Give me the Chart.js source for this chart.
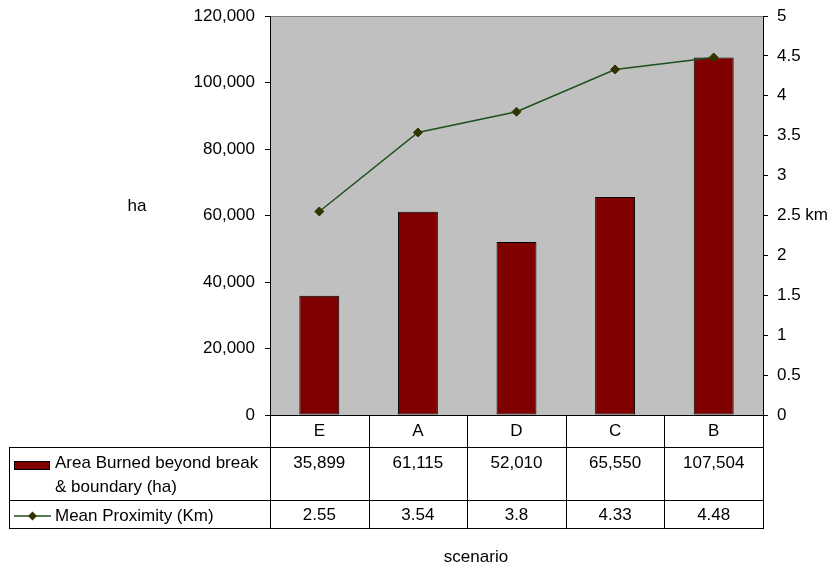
<!DOCTYPE html>
<html>
<head>
<meta charset="utf-8">
<script src="https://cdn.jsdelivr.net/npm/chart.js@4/dist/chart.umd.min.js"></script>
<style>
  html, body { margin: 0; padding: 0; background: #fff; }
  canvas { display: block; }
</style>
</head>
<body>
<canvas id="c" width="830" height="569"></canvas>
<script>
// Scenarios and the two measured series
const categories = ['E', 'A', 'D', 'C', 'B'];
const areaBurned = [35899, 61115, 52010, 65550, 107504];
const meanProximity = [2.55, 3.54, 3.8, 4.33, 4.48];

// Series names as shown in the data table
const areaLabel = ['Area Burned beyond break', '& boundary (ha)'];
const proximityLabel = 'Mean Proximity (Km)';

// Axis ranges and labels
const haAxis = { min: 0, max: 120000, step: 20000 };
const kmAxis = { min: 0, max: 5, step: 0.5 };
const haUnit = 'ha';
const kmUnit = 'km';
const xTitle = 'scenario';

const FONT = 'Liberation Sans, Arial, sans-serif';
const FS = 17;
const BAR_COLOR = '#800000';
const LINE_COLOR = '#1d4f1d';
const MARK_COLOR = '#333300';

const fmt = v => v.toLocaleString('en-US');

// Grey plot background with a grey top edge
const plotBackground = {
  id: 'plotBackground',
  beforeDraw(chart) {
    const { ctx, chartArea: a } = chart;
    ctx.save();
    ctx.fillStyle = '#c0c0c0';
    ctx.fillRect(a.left, a.top, a.right - a.left, a.bottom - a.top);
    ctx.strokeStyle = '#808080';
    ctx.lineWidth = 1;
    ctx.beginPath();
    ctx.moveTo(a.left, Math.round(a.top) + 0.5);
    ctx.lineTo(a.right, Math.round(a.top) + 0.5);
    ctx.stroke();
    ctx.restore();
  }
};

// Data table under the plot, unit labels and axis title
const dataTable = {
  id: 'dataTable',
  afterDraw(chart) {
    const { ctx, chartArea: a } = chart;
    const xs = chart.scales.x;
    const n = categories.length;
    const colW = (a.right - a.left) / n;
    const tableLeft = 9;
    const r0 = a.bottom;        // top of category row
    const r1 = r0 + 32;         // top of area row
    const r2 = r1 + 53;         // top of proximity row
    const r3 = r2 + 28;         // bottom of table
    const p = v => Math.round(v) + 0.5;

    ctx.save();
    ctx.strokeStyle = '#000';
    ctx.lineWidth = 1;
    ctx.beginPath();
    // horizontal rules
    ctx.moveTo(a.left, p(r0)); ctx.lineTo(a.right, p(r0));
    [r1, r2, r3].forEach(y => { ctx.moveTo(tableLeft, p(y)); ctx.lineTo(a.right, p(y)); });
    // column rules
    for (let i = 0; i <= n; i++) {
      const x = p(a.left + i * colW);
      ctx.moveTo(x, r0); ctx.lineTo(x, r3 + 1);
    }
    ctx.moveTo(p(tableLeft), r1); ctx.lineTo(p(tableLeft), r3 + 1);
    ctx.stroke();

    ctx.fillStyle = '#000';
    ctx.font = FS + 'px ' + FONT;
    ctx.textBaseline = 'middle';
    ctx.textAlign = 'center';
    categories.forEach((c, i) => {
      const cx = xs.getPixelForValue(i);
      ctx.fillText(c, cx, r0 + 16);
      ctx.fillText(fmt(areaBurned[i]), cx, r1 + 16);
      ctx.fillText(String(meanProximity[i]), cx, r2 + 15);
    });

    // legend keys
    ctx.fillStyle = BAR_COLOR;
    ctx.fillRect(14, r1 + 14, 36, 9);
    ctx.strokeRect(14.5, r1 + 14.5, 35, 8);
    ctx.strokeStyle = LINE_COLOR;
    ctx.lineWidth = 1.5;
    ctx.beginPath();
    ctx.moveTo(14, r2 + 16); ctx.lineTo(51, r2 + 16);
    ctx.stroke();
    ctx.fillStyle = MARK_COLOR;
    ctx.beginPath();
    const mx = 32.5, my = r2 + 16, ms = 4.5;
    ctx.moveTo(mx, my - ms); ctx.lineTo(mx + ms, my); ctx.lineTo(mx, my + ms); ctx.lineTo(mx - ms, my);
    ctx.closePath();
    ctx.fill();

    ctx.fillStyle = '#000';
    ctx.textAlign = 'left';
    ctx.fillText(areaLabel[0], 55, r1 + 16);
    ctx.fillText(areaLabel[1], 55, r1 + 40);
    ctx.fillText(proximityLabel, 55, r2 + 16);

    ctx.textAlign = 'center';
    ctx.fillText(haUnit, 137, 206);
    ctx.fillText(xTitle, 476, 557);
    ctx.restore();
  }
};

// Fixed axis widths; tick labels may overhang the plot's top edge
const fitAxis = width => s => {
  s.width = width;
  s.paddingTop = 0;
  s.paddingBottom = 0;
};

new Chart(document.getElementById('c'), {
  type: 'bar',
  data: {
    labels: categories,
    datasets: [
      {
        type: 'line',
        label: proximityLabel,
        data: meanProximity,
        yAxisID: 'y1',
        order: 0,
        borderColor: LINE_COLOR,
        borderWidth: 1.5,
        tension: 0,
        fill: false,
        pointStyle: 'rectRot',
        pointRadius: 4.5,
        pointBackgroundColor: MARK_COLOR,
        pointBorderColor: MARK_COLOR,
        pointBorderWidth: 1
      },
      {
        type: 'bar',
        label: areaLabel.join(' '),
        data: areaBurned,
        yAxisID: 'y',
        order: 1,
        backgroundColor: BAR_COLOR,
        borderColor: '#000',
        borderWidth: 1,
        borderSkipped: false,
        categoryPercentage: 1,
        barPercentage: 0.405
      }
    ]
  },
  options: {
    responsive: false,
    animation: false,
    devicePixelRatio: 1,
    layout: { padding: { top: 16, bottom: 154, left: 0, right: 0 } },
    plugins: { legend: { display: false }, tooltip: { enabled: false } },
    scales: {
      x: { display: false, offset: true },
      y: {
        position: 'left',
        min: haAxis.min, max: haAxis.max,
        ticks: {
          stepSize: haAxis.step, color: '#000', padding: 10,
          font: { family: FONT, size: FS },
          callback: v => fmt(v)
        },
        grid: { drawOnChartArea: false, drawTicks: true, tickLength: 5, color: '#000' },
        border: { display: true, color: '#000', width: 1 },
        afterFit: fitAxis(270)
      },
      y1: {
        position: 'right',
        min: kmAxis.min, max: kmAxis.max,
        ticks: {
          stepSize: kmAxis.step, color: '#000', padding: 9,
          font: { family: FONT, size: FS },
          callback: v => (v === 2.5 ? v + ' ' + kmUnit : String(v))
        },
        grid: { drawOnChartArea: false, drawTicks: true, tickLength: 5, color: '#000' },
        border: { display: true, color: '#000', width: 1 },
        afterFit: fitAxis(67)
      }
    }
  },
  plugins: [plotBackground, dataTable]
});
</script>
</body>
</html>
